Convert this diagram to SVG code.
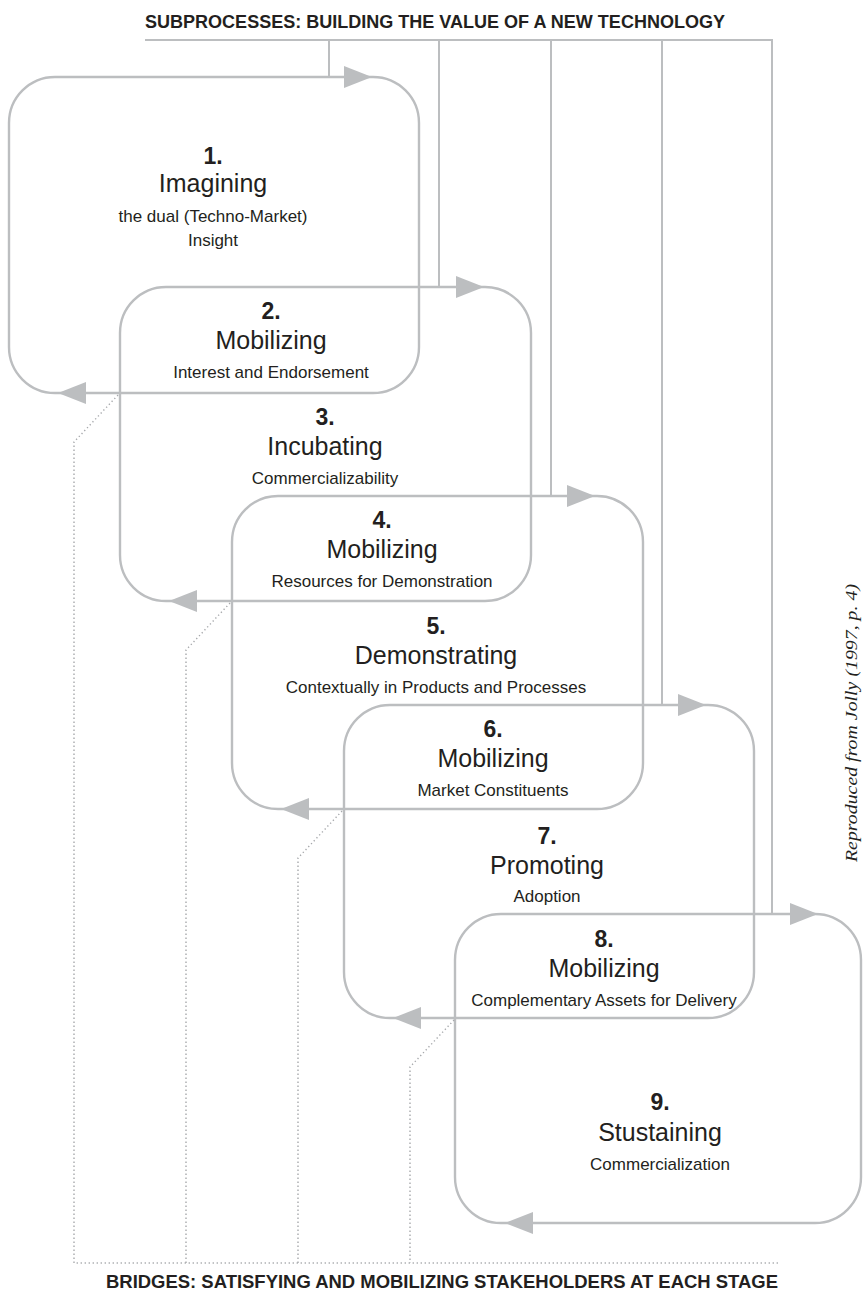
<svg xmlns="http://www.w3.org/2000/svg" width="863" height="1297" viewBox="0 0 863 1297">
  <defs>
    <style>
      .loop { fill: none; stroke: #bcbec0; stroke-width: 2.4; }
      .feed { fill: none; stroke: #bcbec0; stroke-width: 2; }
      .bridge { fill: none; stroke: #a7a9ac; stroke-width: 1.4; stroke-dasharray: 1.3 2.7; }
      .head { fill: #bcbec0; stroke: none; }
      .hdr { font-family: "Liberation Sans", Arial, sans-serif; font-weight: bold; font-size: 18px; fill: #231f20; }
      .num { font-family: "Liberation Sans", Arial, sans-serif; font-weight: bold; font-size: 23px; fill: #231f20; text-anchor: middle; }
      .ttl { font-family: "Liberation Sans", Arial, sans-serif; font-size: 25px; fill: #231f20; text-anchor: middle; }
      .sub { font-family: "Liberation Sans", Arial, sans-serif; font-size: 17px; fill: #231f20; text-anchor: middle; }
      .src { font-family: "Liberation Serif", "Times New Roman", serif; font-style: italic; font-size: 17px; fill: #231f20; }
    </style>
  </defs>

  <!-- headings -->
  <text class="hdr" x="145" y="28" textLength="580" lengthAdjust="spacingAndGlyphs">SUBPROCESSES: BUILDING THE VALUE OF A NEW TECHNOLOGY</text>
  <text class="hdr" x="106" y="1288" textLength="672" lengthAdjust="spacingAndGlyphs">BRIDGES: SATISFYING AND MOBILIZING STAKEHOLDERS AT EACH STAGE</text>
  <text class="src" transform="translate(857,862) rotate(-90)" textLength="278" lengthAdjust="spacingAndGlyphs">Reproduced from Jolly (1997, p. 4)</text>

  <!-- stage loops -->
  <g id="loop-a"><rect class="loop" x="9" y="77" width="410" height="316" rx="46" ry="46"/></g>
  <g id="loop-b"><rect class="loop" x="120" y="287" width="411" height="314" rx="46" ry="46"/></g>
  <g id="loop-c"><rect class="loop" x="232" y="496" width="411" height="313" rx="46" ry="46"/></g>
  <g id="loop-d"><rect class="loop" x="344" y="705" width="410" height="313" rx="46" ry="46"/></g>
  <g id="loop-e"><rect class="loop" x="455" y="914" width="406" height="309" rx="46" ry="46"/></g>

  <g id="connectors">
    <!-- subprocess feed lines -->
    <path class="feed" d="M145 40 H773 M329 40 V77 M439 40 V287 M551 40 V496 M662 40 V705 M772 40 V914"/>
    <!-- loop arrowheads: entry (top, pointing right) -->
    <polygon class="head" points="344,66 372,77 344,88"/>
    <polygon class="head" points="456,276 484,287 456,298"/>
    <polygon class="head" points="567,485 595,496 567,507"/>
    <polygon class="head" points="678,694 706,705 678,716"/>
    <polygon class="head" points="790,903 818,914 790,925"/>
    <!-- loop arrowheads: return (bottom, pointing left) -->
    <polygon class="head" points="86,382 58,393 86,404"/>
    <polygon class="head" points="197,590 169,601 197,612"/>
    <polygon class="head" points="309,798 281,809 309,820"/>
    <polygon class="head" points="421,1007 393,1018 421,1029"/>
    <polygon class="head" points="533,1212 505,1223 533,1234"/>
    <!-- stakeholder bridges -->
    <path class="bridge" d="M118 395 L74 442 V1263 H780"/>
    <path class="bridge" d="M230 603 L186 650 V1263"/>
    <path class="bridge" d="M342 811 L298 858 V1263"/>
    <path class="bridge" d="M454 1020 L410 1067 V1263"/>
  </g>

  <!-- stages -->
  <g id="stage-1">
    <text class="num" x="213" y="164">1.</text>
    <text class="ttl" x="213" y="192">Imagining</text>
    <text class="sub" x="213" y="222">the dual (Techno-Market)</text>
    <text class="sub" x="213" y="246">Insight</text>
  </g>
  <g id="stage-2">
    <text class="num" x="271" y="319">2.</text>
    <text class="ttl" x="271" y="349">Mobilizing</text>
    <text class="sub" x="271" y="378">Interest and Endorsement</text>
  </g>
  <g id="stage-3">
    <text class="num" x="325" y="425">3.</text>
    <text class="ttl" x="325" y="455">Incubating</text>
    <text class="sub" x="325" y="484">Commercializability</text>
  </g>
  <g id="stage-4">
    <text class="num" x="382" y="528">4.</text>
    <text class="ttl" x="382" y="558">Mobilizing</text>
    <text class="sub" x="382" y="587">Resources for Demonstration</text>
  </g>
  <g id="stage-5">
    <text class="num" x="436" y="634">5.</text>
    <text class="ttl" x="436" y="664">Demonstrating</text>
    <text class="sub" x="436" y="693">Contextually in Products and Processes</text>
  </g>
  <g id="stage-6">
    <text class="num" x="493" y="737">6.</text>
    <text class="ttl" x="493" y="767">Mobilizing</text>
    <text class="sub" x="493" y="796">Market Constituents</text>
  </g>
  <g id="stage-7">
    <text class="num" x="547" y="844">7.</text>
    <text class="ttl" x="547" y="874">Promoting</text>
    <text class="sub" x="547" y="902">Adoption</text>
  </g>
  <g id="stage-8">
    <text class="num" x="604" y="947">8.</text>
    <text class="ttl" x="604" y="977">Mobilizing</text>
    <text class="sub" x="604" y="1006">Complementary Assets for Delivery</text>
  </g>
  <g id="stage-9">
    <text class="num" x="660" y="1110">9.</text>
    <text class="ttl" x="660" y="1141">Stustaining</text>
    <text class="sub" x="660" y="1170">Commercialization</text>
  </g>
</svg>
